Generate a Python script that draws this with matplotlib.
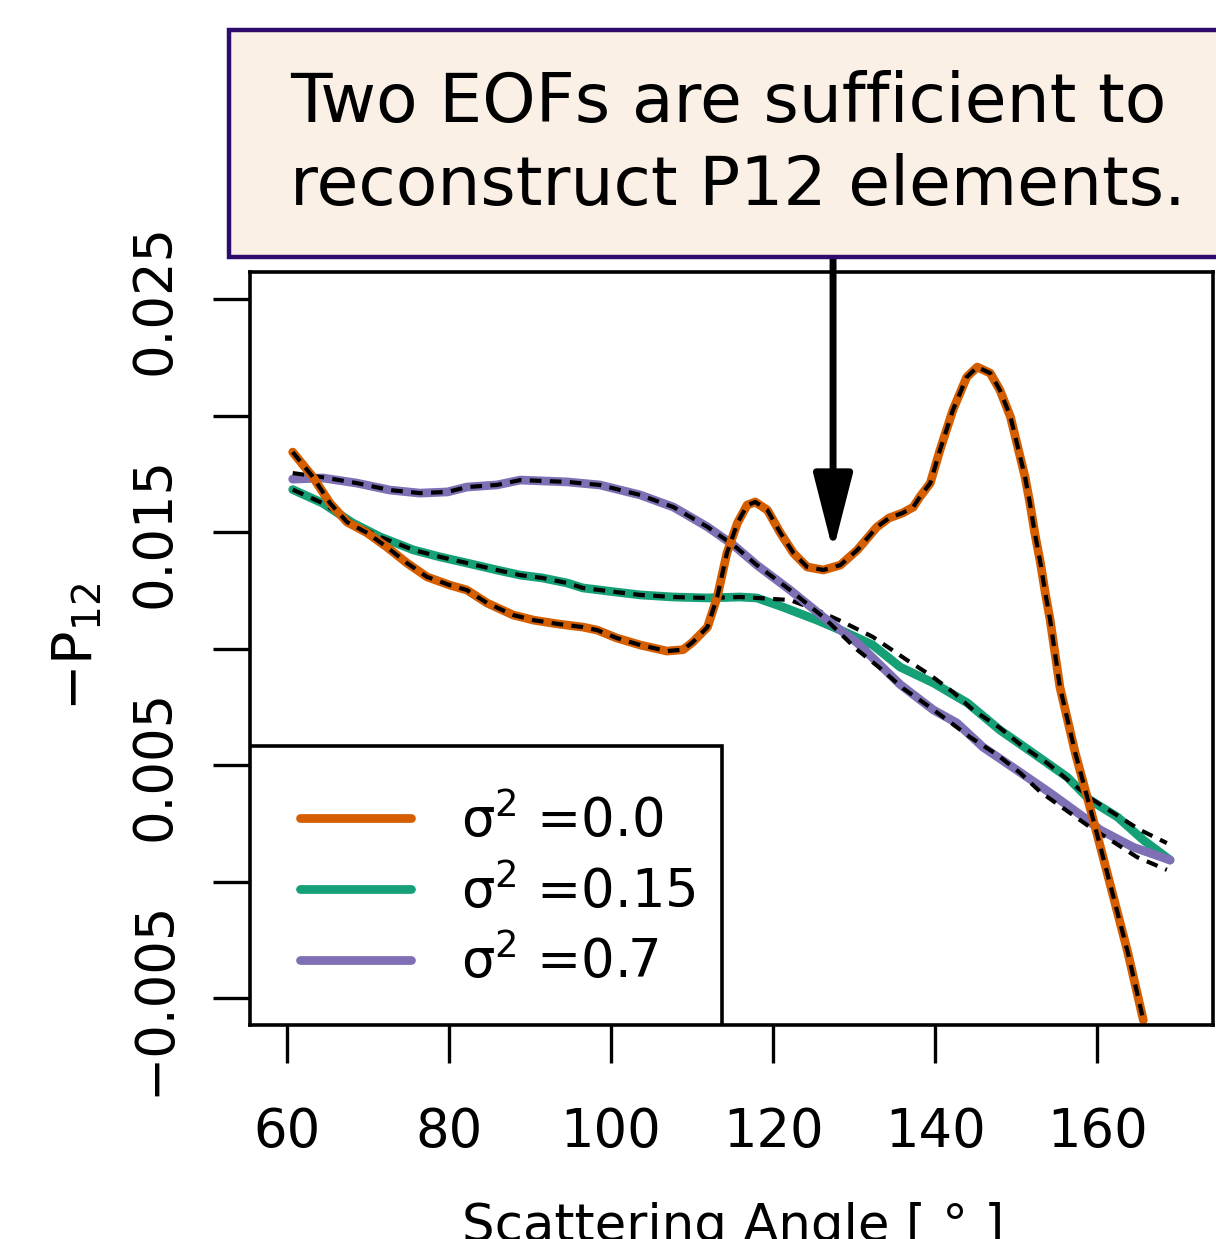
import matplotlib
matplotlib.use('Agg')
import matplotlib.pyplot as plt
from matplotlib.patches import Rectangle

# sigma^2 = 0.0  (orange)
ang_00 = [60.7, 63.2, 65.3, 67.4, 69.9, 72.3, 74.8, 77.3, 80.1, 82.2, 84.7, 87.9,
          90.4, 93.5, 96.5, 98.3, 100.7, 103.6, 106.9, 108.9, 110.1, 111.9, 113.1,
          114.3, 115.6, 116.8, 117.8, 119.3, 120.9, 122.5, 124.2, 126.2, 128.3, 130.4,
          132.8, 134.3, 136.0, 137.3, 138.1, 139.4, 140.6, 142.2, 143.9, 145.2, 146.8,
          148.0, 149.3, 150.2, 151.1, 151.7, 152.3, 153.0, 153.6, 154.2, 155.4, 157.3,
          159.1, 160.6, 162.2, 163.8, 165.7]
p12_00 = [0.01843, 0.01736, 0.01624, 0.01543, 0.01496, 0.01436, 0.01367, 0.01307,
          0.01272, 0.01251, 0.01195, 0.01144, 0.01122, 0.01105, 0.01092, 0.01079,
          0.01045, 0.01015, 0.00989, 0.00995, 0.01028, 0.01092, 0.01221, 0.01410,
          0.01539, 0.01616, 0.01629, 0.01594, 0.01496, 0.01410, 0.01350, 0.01337,
          0.01358, 0.01423, 0.01521, 0.01560, 0.01582, 0.01607, 0.01650, 0.01710,
          0.01852, 0.02024, 0.02165, 0.02208, 0.02182, 0.02109, 0.01994, 0.01865,
          0.01736, 0.01624, 0.01496, 0.01367, 0.01238, 0.01122, 0.00835, 0.00551,
          0.00320, 0.00122, -0.00092, -0.00307, -0.00595]
# two-EOF reconstruction lies on top of the curve
rec_ang_00 = list(ang_00)
rec_00 = list(p12_00)

# sigma^2 = 0.15  (green)
ang_015 = [60.7, 64.4, 68.1, 71.5, 75.6, 78.9, 82.2, 85.9, 88.8, 91.5, 94.6, 96.5,
           100.7, 103.6, 107.7, 111.9, 115.9, 118.0, 121.2, 125.4, 129.1, 132.3, 135.7,
           139.8, 144.0, 148.0, 152.1, 156.3, 159.1, 162.5, 165.7, 169.0]
p12_015 = [0.01682, 0.01624, 0.01539, 0.01479, 0.01423, 0.01393, 0.01367, 0.01337,
           0.01315, 0.01303, 0.01281, 0.01260, 0.01242, 0.01230, 0.01221, 0.01217,
           0.01221, 0.01217, 0.01178, 0.01122, 0.01067, 0.01015, 0.00920, 0.00852,
           0.00766, 0.00650, 0.00551, 0.00448, 0.00350, 0.00277, 0.00178, 0.00092]
rec_ang_015 = [60.7, 64.4, 68.1, 71.5, 75.6, 78.9, 82.2, 85.9, 88.8, 91.5, 94.6, 96.5,
               100.7, 103.6, 107.7, 111.9, 115.9, 118.0, 122.1, 125.4, 128.6, 132.3,
               136.5, 139.4, 142.2, 144.7, 148.0, 150.9, 153.8, 156.7, 159.5, 162.0,
               165.3, 168.6]
rec_015 = [0.01682, 0.01624, 0.01539, 0.01479, 0.01423, 0.01393, 0.01367, 0.01337,
           0.01315, 0.01303, 0.01281, 0.01260, 0.01242, 0.01230, 0.01221, 0.01217,
           0.01221, 0.01217, 0.01208, 0.01165, 0.01114, 0.01050, 0.00951, 0.00886,
           0.00813, 0.00736, 0.00659, 0.00577, 0.00509, 0.00427, 0.00350, 0.00294,
           0.00221, 0.00165]

# sigma^2 = 0.7  (purple)
ang_070 = [60.7, 64.4, 68.6, 72.7, 76.4, 79.8, 82.2, 85.9, 88.8, 94.6, 98.6, 103.6,
           107.7, 111.9, 115.1, 118.0, 122.1, 126.2, 130.4, 135.7, 139.8, 142.7, 145.9,
           150.1, 154.2, 158.3, 160.4, 164.4, 169.0]
p12_070 = [0.01727, 0.01732, 0.01710, 0.01680, 0.01667, 0.01672, 0.01693, 0.01702,
           0.01723, 0.01715, 0.01702, 0.01659, 0.01607, 0.01522, 0.01444, 0.01358,
           0.01251, 0.01135, 0.01024, 0.00845, 0.00736, 0.00680, 0.00577, 0.00478,
           0.00380, 0.00277, 0.00221, 0.00148, 0.00092]
rec_ang_070 = [60.7, 64.4, 68.6, 72.7, 76.4, 79.8, 82.2, 85.9, 88.8, 94.6, 98.6, 103.6,
               107.7, 111.9, 115.1, 118.0, 122.1, 126.2, 130.4, 133.2, 136.0, 139.0,
               141.5, 144.3, 147.7, 150.5, 153.0, 155.8, 159.1, 162.0, 164.9, 168.6]
rec_070 = [0.01753, 0.01735, 0.01710, 0.01680, 0.01667, 0.01672, 0.01693, 0.01702,
           0.01723, 0.01715, 0.01702, 0.01659, 0.01607, 0.01522, 0.01444, 0.01358,
           0.01251, 0.01135, 0.00994, 0.00916, 0.00830, 0.00757, 0.00693, 0.00620,
           0.00543, 0.00466, 0.00384, 0.00315, 0.00234, 0.00170, 0.00105, 0.00050]

labels = ['σ$^2$ =0.0', 'σ$^2$ =0.15', 'σ$^2$ =0.7']
colors = ['#D55E00', '#16A077', '#7F70B5']
xticks = [60, 80, 100, 120, 140, 160]
yticks = [-0.005, 0.0, 0.005, 0.01, 0.015, 0.02, 0.025]
ytick_labels = ['\u22120.005', '', '0.005', '', '0.015', '', '0.025']

plt.rcParams['font.family'] = ['DejaVu Sans']
plt.rcParams['mathtext.fontset'] = 'dejavusans'

W, H = 1216, 1239
fig = plt.figure(figsize=(W / 100, H / 100), dpi=100)
ax = fig.add_axes([250 / W, 1 - 1025 / H, (1213 - 250) / W, (1025 - 272) / H])

solid = dict(lw=6.3, solid_capstyle='round', solid_joinstyle='round')
dash = dict(color='black', lw=3.0, dashes=(2.8, 2.0), dash_joinstyle='round')
ax.plot(ang_015, p12_015, color=colors[1], label=labels[1], **solid)
ax.plot(rec_ang_015, rec_015, **dash)
ax.plot(ang_070, p12_070, color=colors[2], label=labels[2], **solid)
ax.plot(rec_ang_070, rec_070, **dash)
ax.plot(ang_00, p12_00, color=colors[0], label=labels[0], **solid)
ax.plot(rec_ang_00, rec_00, **dash)

ax.set_xlim(55.43, 174.3)
ax.set_ylim(-0.006159, 0.02616)
ax.set_xticks(xticks)
ax.set_xticklabels([str(t) for t in xticks], fontsize=38)
ax.set_yticks(yticks)
ax.set_yticklabels(ytick_labels, fontsize=38, rotation=90, va='center')
ax.tick_params(axis='both', direction='out', length=27, width=2.4)
ax.tick_params(axis='x', pad=31)
ax.tick_params(axis='y', pad=23)
for s in ax.spines.values():
    s.set_linewidth(2.6)

# legend: frame drawn as a box in the lower-left corner, entries placed inside
ax.add_patch(Rectangle((0, 0), 472 / 963, 279 / 753, transform=ax.transAxes,
                       facecolor='white', edgecolor='black', lw=2.6, zorder=4))
h, l = ax.get_legend_handles_labels()
order = [2, 0, 1]
leg = ax.legend([h[i] for i in order], [l[i] for i in order], loc='center left',
                bbox_to_anchor=(50 / 963, 133 / 753), borderaxespad=0, borderpad=0,
                fontsize=38, frameon=False, handlelength=2.1, handletextpad=0.95,
                labelspacing=0.33)
leg.set_zorder(5)

fig.text(77 / W, 1 - 647 / H, r'$-\mathrm{P}_{12}$', fontsize=40, rotation=90,
         ha='center', va='center')
fig.text(733 / W, 1 - 1241 / H, 'Scattering Angle [ ° ]', fontsize=37,
         ha='center', va='baseline')

# annotation box
fig.patches.append(Rectangle((229 / W, 1 - 257 / H), (1240 - 229) / W, 227 / H,
                             transform=fig.transFigure, facecolor='#FAF0E6',
                             edgecolor='#2D0A6B', lw=3.2))
fig.text(290 / W, 1 - 122 / H, 'Two EOFs are sufficient to', fontsize=49,
         ha='left', va='baseline')
fig.text(290 / W, 1 - 205 / H, 'reconstruct P12 elements.', fontsize=49,
         ha='left', va='baseline')

ax.annotate('', xy=(127.4, 0.01418), xytext=(127.4, 0.0268), annotation_clip=False,
            arrowprops=dict(arrowstyle='-|>,head_length=4.7,head_width=1.2',
                            mutation_scale=10, lw=5, color='black',
                            shrinkA=0, shrinkB=0))

fig.savefig('out.png', dpi=100)
